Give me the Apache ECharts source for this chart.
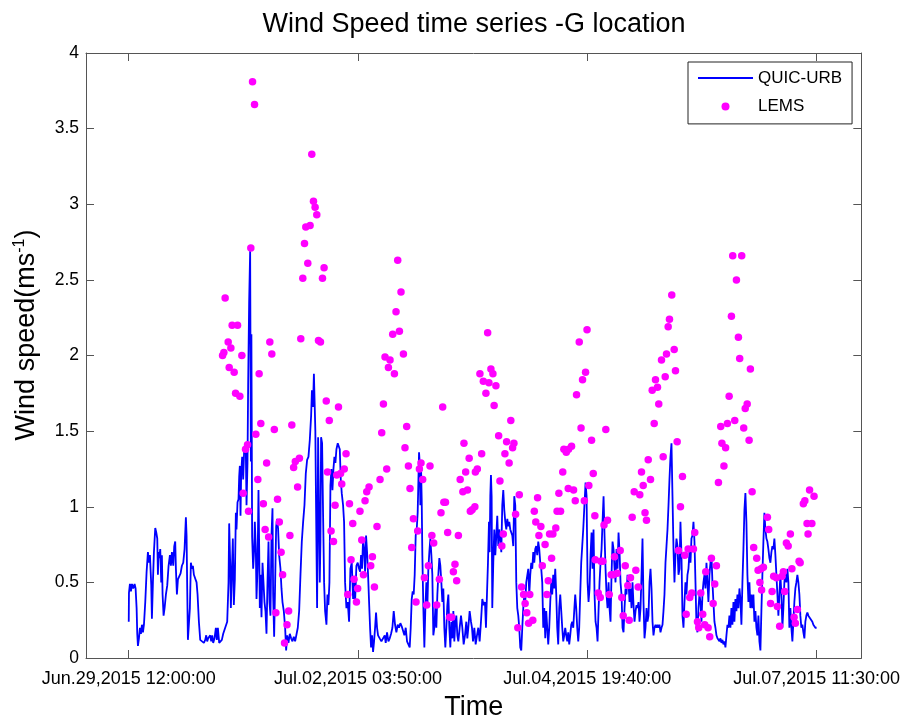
<!DOCTYPE html>
<html><head><meta charset="utf-8">
<script src="https://cdn.jsdelivr.net/npm/echarts@6/dist/echarts.min.js"></script>
<style>html,body{margin:0;padding:0;background:#fff}#c{width:903px;height:726px}</style>
</head><body><div id="c"></div>
<script>
// x values are hours after Jun.29,2015 12:00:00
const xTickHours = [0, 63.8333, 127.6667, 191.5];
const xTickLabels = ['Jun.29,2015 12:00:00', 'Jul.02,2015 03:50:00', 'Jul.04,2015 19:40:00', 'Jul.07,2015 11:30:00'];
const xRange = [-11.9, 203.95];

const quicHours = [
0.00,0.06,0.33,0.61,0.89,1.26,1.63,1.91,2.19,2.37,
2.56,2.84,3.12,3.39,3.67,3.95,4.23,4.60,4.97,5.34,
5.62,5.90,6.27,6.45,6.73,7.01,7.38,7.66,7.94,8.12,
8.31,8.49,8.77,9.05,9.23,9.42,9.70,9.98,10.35,10.72,
11.09,11.46,11.74,12.02,12.39,12.67,12.94,13.13,13.41,13.69,
14.06,14.43,14.80,15.17,15.54,15.91,16.10,16.28,16.47,16.74,
17.02,17.30,17.58,17.86,18.14,18.51,18.88,19.16,19.53,19.90,
20.36,20.92,21.29,21.57,21.84,22.12,22.40,22.68,22.96,23.24,
23.51,23.88,24.26,24.53,24.81,25.18,25.55,25.92,26.30,26.85,
27.41,27.78,27.96,28.24,28.43,28.71,28.98,29.26,29.54,29.82,
30.00,30.28,30.56,30.75,30.93,31.12,31.30,31.58,31.86,32.14,
32.41,32.60,32.79,33.06,33.24,33.52,33.80,34.00,34.15,34.35,
34.64,34.92,35.10,35.38,35.57,35.85,36.12,36.31,36.49,36.68,
36.96,37.24,37.51,37.79,38.07,38.35,38.63,38.91,39.18,39.46,
39.74,40.02,40.20,40.48,40.76,41.04,41.32,41.59,41.87,42.24,
42.52,42.80,43.17,43.54,43.82,44.10,44.47,44.84,45.21,45.58,
45.95,46.32,46.69,47.06,47.44,47.81,48.18,48.55,48.92,49.29,
49.66,50.03,50.40,50.77,51.00,51.15,51.30,51.55,51.75,51.95,
52.15,52.44,52.72,52.99,53.18,53.37,53.55,53.83,54.11,54.39,
54.67,55.04,55.32,55.59,55.87,56.15,56.43,56.71,56.99,57.26,
57.54,57.82,58.19,58.47,58.75,59.03,59.30,59.67,59.95,60.23,
60.60,60.97,61.34,61.71,62.09,62.46,62.73,63.01,63.38,63.75,
64.13,
64.40,64.68,64.96,65.24,65.52,65.80,66.07,66.35,66.63,66.91,
67.19,67.46,67.74,68.02,68.30,68.58,68.85,69.13,69.41,69.87,
70.34,70.80,71.27,71.54,71.91,72.29,72.66,73.03,73.40,73.77,
74.14,74.51,74.88,75.25,75.62,75.99,76.37,76.74,77.11,77.48,
77.85,78.22,78.50,78.78,79.05,79.33,79.61,79.89,80.17,80.44,
80.63,80.82,81.00,81.19,81.37,81.56,81.74,82.02,82.30,82.58,
82.86,83.13,83.41,83.69,83.97,84.25,84.52,84.80,85.08,85.36,
85.64,85.92,86.19,86.47,86.75,87.03,87.31,87.58,87.86,88.14,
88.42,88.70,88.98,89.25,89.53,89.81,90.09,90.37,90.64,90.92,
91.20,91.48,91.76,92.13,92.50,92.87,93.24,93.61,93.98,94.26,
94.54,94.91,95.28,95.56,95.84,96.21,96.58,96.95,97.32,97.69,
98.06,98.43,98.80,99.17,99.45,99.73,100.01,100.29,100.47,100.66,
100.84,101.03,101.21,101.49,101.77,102.05,102.33,102.60,102.88,103.16,
103.44,103.72,103.99,104.27,104.55,104.83,105.11,105.39,105.66,105.94,
106.22,106.50,106.78,107.05,107.33,107.61,107.89,108.17,108.45,108.72,
109.00,109.28,109.56,109.84,110.12,110.39,110.67,110.95,111.23,111.51,
111.78,112.06,112.34,112.62,112.90,113.17,113.45,113.73,114.01,114.29,
114.57,114.84,115.12,115.40,115.68,115.96,116.23,116.51,116.79,117.07,
117.35,117.63,117.90,118.18,118.46,118.74,119.02,119.29,119.57,119.85,
120.13,120.41,120.69,120.96,121.24,121.52,121.80,122.08,122.35,122.63,
122.91,123.19,123.47,123.75,124.02,124.30,124.58,124.86,125.14,125.41,
125.69,125.97,126.25,126.53,126.80,127.08,
127.18,127.46,127.74,128.01,128.29,128.57,128.85,129.13,129.40,129.68,
129.96,130.24,130.52,130.79,131.07,131.35,131.63,131.91,132.19,132.46,
132.74,133.02,133.30,133.58,133.85,134.13,134.41,134.69,134.97,135.25,
135.52,135.80,136.08,136.36,136.64,136.91,137.19,137.47,137.75,138.03,
138.31,138.58,138.86,139.14,139.42,139.70,139.97,140.25,140.53,140.81,
141.09,141.37,141.64,141.92,142.20,142.48,142.76,143.03,143.31,143.59,
143.87,144.15,144.42,144.70,144.98,145.26,145.54,145.82,146.09,146.37,
146.65,146.93,147.21,147.48,147.76,148.04,148.32,148.60,148.87,149.15,
149.43,149.71,149.99,150.27,150.54,150.82,151.10,151.38,151.66,151.93,
152.21,152.49,152.77,153.05,153.33,153.60,153.88,154.16,154.44,154.72,
154.99,155.27,155.55,155.83,156.11,156.39,156.66,156.94,157.22,157.50,
157.78,158.05,158.33,158.61,158.89,159.17,159.45,159.72,160.00,160.28,
160.56,160.84,161.11,161.39,161.67,161.95,162.23,162.50,162.78,163.06,
163.34,163.62,163.90,164.17,164.45,164.73,165.01,165.29,165.56,165.84,
166.12,166.40,166.68,166.96,167.23,167.51,167.79,168.07,168.35,168.62,
168.90,169.18,169.46,169.74,170.02,170.29,170.57,170.85,171.13,171.41,
171.68,171.96,172.24,172.52,172.80,173.07,173.35,173.63,173.91,174.19,
174.47,174.74,175.02,175.30,175.58,175.86,176.13,176.41,176.69,176.97,
177.25,177.53,177.80,178.08,178.36,178.64,178.92,179.19,179.47,179.75,
180.03,180.31,180.59,180.86,181.14,181.42,181.70,181.98,182.25,182.53,
182.81,183.09,183.37,183.65,183.92,184.20,184.48,184.76,185.04,185.31,
185.59,185.87,186.15,186.43,186.71,186.98,187.26,187.54,187.82,188.10,
188.37,188.65,188.93,189.21,189.49,189.77,190.04,190.32,190.60,190.88,
191.16,191.50
];
const quicSpeed = [
0.24,0.43,0.49,0.44,0.49,0.46,0.49,0.46,0.33,0.16,
0.08,0.13,0.20,0.16,0.22,0.17,0.22,0.37,0.57,0.70,
0.63,0.68,0.48,0.26,0.50,0.70,0.86,0.83,0.79,0.55,
0.70,0.66,0.72,0.50,0.68,0.42,0.28,0.33,0.42,0.48,
0.61,0.68,0.61,0.70,0.61,0.74,0.77,0.59,0.42,0.52,
0.54,0.56,0.61,0.63,0.72,0.93,0.81,0.46,0.12,0.13,
0.33,0.63,0.59,0.61,0.55,0.56,0.50,0.42,0.24,0.12,
0.11,0.10,0.12,0.15,0.11,0.13,0.14,0.15,0.11,0.15,
0.10,0.13,0.20,0.12,0.20,0.10,0.10,0.12,0.16,0.20,
0.24,0.50,0.89,0.63,0.33,0.33,0.79,0.35,0.52,0.96,
0.85,1.03,1.05,1.20,1.27,0.94,1.22,1.33,1.18,1.38,
1.40,1.36,1.01,1.29,1.80,2.35,2.69,1.30,2.14,0.80,
0.59,0.72,0.90,0.72,0.39,0.59,1.11,0.74,0.33,0.55,
0.27,0.63,0.50,0.37,0.31,0.16,0.50,0.77,0.37,0.28,
0.81,0.99,0.42,0.14,0.50,0.87,0.92,0.85,0.68,0.59,
0.46,0.37,0.31,0.20,0.05,0.15,0.10,0.16,0.13,0.11,
0.14,0.11,0.12,0.20,0.31,0.55,0.77,0.90,1.01,1.22,
1.31,1.33,1.44,1.60,1.77,1.72,1.66,1.88,1.87,1.50,
1.00,0.33,1.46,0.90,0.50,0.77,1.46,1.42,0.94,0.50,
0.31,0.22,0.42,0.35,0.50,1.14,1.25,1.11,1.25,1.33,
1.29,1.38,1.42,1.43,1.38,1.18,1.09,1.01,0.90,0.50,
0.33,0.37,0.24,0.59,0.63,0.39,0.50,0.37,0.61,0.63,
0.59,
0.57,0.68,0.59,0.79,0.72,0.57,0.81,0.70,0.55,0.37,
0.20,0.07,0.15,0.04,0.11,0.20,0.30,0.20,0.15,0.13,
0.11,0.10,0.15,0.10,0.17,0.11,0.13,0.16,0.20,0.31,
0.22,0.17,0.22,0.20,0.23,0.21,0.20,0.15,0.20,0.11,
0.12,0.07,0.20,0.39,0.44,0.42,0.55,0.81,0.85,0.96,
1.16,1.36,1.29,1.01,1.27,1.05,0.68,0.33,0.07,0.33,
0.50,0.33,0.59,0.70,0.79,0.68,0.55,0.15,0.20,0.33,
0.20,0.42,0.55,0.66,0.61,0.50,0.37,0.46,0.20,0.07,
0.20,0.35,0.42,0.20,0.07,0.24,0.13,0.31,0.11,0.24,
0.28,0.15,0.11,0.20,0.28,0.20,0.09,0.15,0.24,0.13,
0.20,0.31,0.24,0.20,0.11,0.20,0.09,0.15,0.20,0.11,
0.24,0.39,0.35,0.37,0.20,0.42,0.63,0.90,0.70,1.07,
1.21,1.07,0.33,0.63,0.85,0.68,0.81,0.94,0.74,0.85,
0.79,0.70,1.01,1.11,0.98,0.90,0.85,0.92,0.87,0.90,
0.85,0.85,0.81,0.74,1.07,1.01,0.50,0.33,0.28,0.20,
0.07,0.05,0.20,0.33,0.42,0.37,0.50,0.50,0.59,0.42,
0.55,0.63,0.59,0.70,0.63,0.72,0.74,0.68,0.77,0.72,
0.63,0.59,0.50,0.20,0.33,0.13,0.31,0.20,0.09,0.20,
0.37,0.50,0.42,0.55,0.46,0.59,0.42,0.20,0.09,0.33,
0.42,0.31,0.20,0.11,0.15,0.20,0.15,0.11,0.17,0.09,
0.15,0.22,0.24,0.20,0.31,0.42,0.33,0.20,0.11,0.20,
0.42,0.63,0.74,0.85,0.98,1.11,
1.16,1.07,0.50,0.37,0.46,0.68,0.83,0.59,0.85,0.42,
0.24,0.20,0.11,0.31,0.50,0.63,0.72,0.90,1.07,0.81,
0.59,0.42,0.33,0.50,0.33,0.24,0.55,0.77,0.72,0.59,
0.50,0.72,0.59,0.83,0.70,0.50,0.42,0.20,0.17,0.33,
0.46,0.42,0.55,0.50,0.37,0.46,0.33,0.50,0.35,0.24,
0.31,0.35,0.33,0.37,0.24,0.33,0.55,0.79,0.37,0.13,
0.20,0.33,0.24,0.28,0.50,0.59,0.46,0.24,0.15,0.20,
0.22,0.20,0.22,0.20,0.22,0.17,0.20,0.22,0.31,0.42,
0.63,0.74,0.85,1.01,1.18,1.33,1.42,1.07,0.72,0.50,
0.68,0.79,0.74,0.55,0.59,0.90,0.68,0.28,0.20,0.37,
0.50,0.42,0.55,0.59,0.70,0.63,0.79,0.81,0.90,0.77,
0.50,0.22,0.17,0.33,0.42,0.37,0.24,0.42,0.50,0.55,
0.46,0.63,0.50,0.37,0.55,0.63,0.68,0.50,0.37,0.24,
0.20,0.15,0.13,0.12,0.11,0.13,0.10,0.12,0.09,0.11,
0.07,0.15,0.22,0.20,0.28,0.20,0.33,0.22,0.37,0.24,
0.39,0.31,0.42,0.33,0.46,0.39,0.22,0.50,0.72,0.98,
1.09,0.90,0.55,0.37,0.50,0.33,0.42,0.33,0.42,0.24,
0.31,0.20,0.15,0.28,0.11,0.05,0.31,0.55,0.77,0.96,
0.85,0.79,0.77,0.72,0.66,0.63,0.70,0.74,0.72,0.79,
0.68,0.55,0.42,0.28,0.42,0.55,0.42,0.20,0.33,0.50,
0.57,0.50,0.59,0.50,0.20,0.33,0.20,0.11,0.24,0.37,
0.46,0.50,0.55,0.50,0.42,0.28,0.20,0.22,0.17,0.13,
0.24,0.28,0.30,0.28,0.27,0.26,0.26,0.24,0.22,0.21,
0.20,0.20
];

const lemsHours = [
26.12,26.48,26.84,27.68,27.96,28.43,28.79,29.35,29.74,30.29,
30.93,31.49,31.85,32.52,33.07,33.35,33.99,34.46,35.02,35.38,
35.94,36.30,36.77,37.47,37.97,38.39,38.94,39.28,39.83,40.53,
40.95,41.42,41.92,42.42,42.84,43.37,44.06,44.51,44.87,45.40,
45.90,46.37,47.01,47.51,47.90,48.46,48.93,49.29,49.85,50.49,
50.96,51.43,51.88,52.35,52.82,53.38,53.94,54.38,54.99,55.33,
55.83,56.33,57.00,57.44,57.91,58.39,58.97,59.30,60.00,60.50,
60.97,61.45,61.89,62.36,62.73,63.39,63.73,64.37,64.87,65.34,
65.79,66.26,66.90,67.37,67.84,68.40,69.12,69.96,70.43,70.90,
71.35,71.82,72.29,72.74,73.49,73.96,74.41,74.88,75.35,75.80,
76.47,76.91,77.38,77.86,78.30,78.78,79.25,79.97,80.44,80.92,
81.36,81.83,82.31,82.95,83.42,83.87,84.39,84.90,85.73,86.48,
86.93,87.40,87.73,88.18,88.79,89.35,89.90,90.38,90.82,91.29,
91.77,92.27,93.02,93.32,93.80,94.30,94.77,95.10,95.60,96.36,
96.50,97.05,97.77,98.25,98.72,99.44,99.92,100.28,100.83,101.39,
101.72,102.22,102.98,103.34,103.87,104.28,104.73,105.20,105.90,106.37,
106.87,107.23,107.70,108.32,108.73,109.37,109.93,110.35,110.82,111.32,
111.65,112.49,112.91,113.32,113.82,114.19,114.74,115.13,115.91,116.41,
116.80,117.16,117.72,118.08,118.89,119.25,119.75,120.22,120.83,121.14,
121.81,122.36,122.45,123.28,123.84,124.31,124.67,125.42,125.92,126.34,
126.84,127.18,127.59,128.09,128.85,129.32,129.76,129.87,130.71,131.27,
131.43,131.99,132.32,132.82,133.29,133.77,134.32,134.88,135.24,135.99,
136.83,137.27,137.66,138.22,138.94,139.33,139.69,140.16,140.72,141.17,
141.83,142.28,142.75,143.23,143.73,144.14,144.62,145.26,145.73,146.29,
146.65,147.20,147.56,148.32,148.79,149.35,149.71,150.18,150.54,151.18,
151.85,152.21,152.68,153.04,153.60,154.16,154.80,155.19,155.74,156.19,
156.75,157.22,157.58,158.33,158.69,159.25,159.80,160.36,160.64,161.30,
161.75,162.22,162.70,163.14,163.61,164.17,164.81,165.14,165.70,166.17,
166.67,167.15,167.79,168.15,168.71,169.18,169.73,170.09,170.65,171.21,
171.63,172.18,172.71,173.07,173.55,173.99,174.83,175.21,175.71,176.05,
176.19,176.69,177.80,178.16,178.69,179.11,179.55,180.30,180.58,181.22,
181.89,182.25,182.61,183.09,183.59,184.20,184.62,185.23,185.59,186.15,
186.62,186.92,187.81,188.23,188.84,189.12,189.54,190.18,190.79
];
const lemsSpeed = [
2.00,2.02,2.38,2.09,1.92,2.05,2.20,1.89,1.75,2.20,
1.73,2.00,1.09,1.38,1.41,0.97,2.71,3.81,3.66,1.48,
1.18,1.88,1.55,1.02,0.85,1.29,0.80,2.09,2.01,1.51,
0.30,1.05,0.90,0.70,0.55,0.10,0.22,0.31,0.81,1.54,
1.26,1.30,1.13,1.32,2.11,2.51,2.74,2.85,2.61,2.86,
3.33,3.02,2.98,2.93,2.10,2.09,2.51,2.58,1.70,1.23,
1.57,0.84,0.77,1.01,1.21,1.66,1.22,1.15,1.25,1.35,
0.42,1.02,0.65,0.89,0.52,0.37,0.46,0.97,0.78,0.55,
1.04,1.10,1.13,0.61,0.67,0.47,0.87,1.18,1.49,1.68,
1.99,1.25,1.92,1.97,2.14,1.88,2.29,2.63,2.16,2.42,
2.01,1.39,1.53,1.27,1.12,0.73,0.92,0.37,0.84,1.25,
1.29,1.18,0.53,0.35,0.61,1.27,0.81,0.76,0.35,0.52,
0.96,1.66,1.03,1.03,0.83,0.27,0.27,0.57,0.62,0.51,
0.81,1.18,1.10,1.42,1.23,1.11,1.32,0.97,0.98,1.00,
1.23,1.25,1.88,1.35,1.83,1.75,2.15,1.82,1.91,1.88,
1.67,1.80,1.47,1.17,0.74,0.82,1.35,1.43,1.29,1.57,
1.39,1.42,0.95,0.20,1.08,0.47,0.42,0.36,0.30,0.23,
0.42,0.25,0.97,0.90,1.06,0.81,0.87,0.61,0.75,0.42,
0.51,0.82,0.66,0.82,0.86,0.97,1.09,0.97,1.23,1.38,
1.36,1.12,1.38,1.40,1.11,1.04,1.74,2.09,1.52,1.84,
1.04,1.89,2.17,1.14,1.44,1.22,0.94,0.65,0.43,0.40,
0.64,0.64,0.88,1.51,0.91,0.42,0.55,0.55,0.67,0.56,
0.71,0.40,0.28,0.61,0.48,0.25,0.53,0.93,1.10,0.58,
0.47,1.08,1.23,1.14,0.96,0.91,1.31,1.18,1.77,1.55,
1.84,1.79,1.68,1.97,1.33,1.86,2.01,2.19,2.24,2.40,
2.04,1.90,1.43,0.71,1.00,1.20,0.68,0.29,0.72,0.40,
0.43,0.72,0.83,0.24,0.20,0.43,0.29,0.22,0.57,0.20,
0.14,0.66,0.36,0.49,0.61,1.16,1.53,1.42,1.27,1.39,
1.55,1.73,2.26,2.66,1.57,2.50,2.12,1.98,2.66,1.52,
1.65,1.68,1.44,1.91,1.10,0.73,0.66,0.58,0.50,0.59,
0.45,0.60,0.93,0.85,0.36,0.44,0.54,0.53,0.34,0.21,
0.54,0.57,0.44,0.76,0.74,0.82,0.59,0.27,0.23,0.32,
0.64,0.63,1.02,1.04,0.89,0.82,1.11,0.89,1.07
];

const FONT = '"Liberation Sans", Arial, Helvetica, sans-serif';
const AXIS_COLOR = '#555';

function pairs(xs, ys) {
  const n = Math.min(xs.length, ys.length);
  const out = [];
  for (let i = 0; i < n; i++) out.push([xs[i], ys[i]]);
  return out;
}
function xLabel(v) {
  for (let i = 0; i < xTickHours.length; i++) {
    if (Math.abs(v - xTickHours[i]) < 1e-3) return xTickLabels[i];
  }
  return '';
}

const chart = echarts.init(document.getElementById('c'), null, { renderer: 'canvas' });
const baseX = {
  type: 'value', min: xRange[0], max: xRange[1],
  splitLine: { show: false },
  axisLine: { show: true, onZero: false, lineStyle: { color: AXIS_COLOR, width: 1 } },
  axisTick: { show: true, inside: true, length: 8, customValues: xTickHours, lineStyle: { color: AXIS_COLOR } }
};
const baseY = {
  type: 'value', min: 0, max: 4, interval: 0.5,
  splitLine: { show: false },
  axisLine: { show: true, onZero: false, lineStyle: { color: AXIS_COLOR, width: 1 } },
  axisTick: { show: true, inside: true, length: 8, lineStyle: { color: AXIS_COLOR } }
};

chart.setOption({
  animation: false,
  backgroundColor: '#fff',
  title: {
    text: 'Wind Speed time series -G location',
    left: 469, top: 6, textAlign: 'center',
    textStyle: { fontFamily: FONT, fontSize: 27, fontWeight: 'normal', color: '#000' }
  },
  grid: { left: 86, right: 41, top: 53, bottom: 63, containLabel: false },
  xAxis: [
    Object.assign({}, baseX, {
      position: 'bottom',
      axisLabel: { show: true, customValues: xTickHours, formatter: xLabel, margin: 12,
        fontFamily: FONT, fontSize: 18, color: '#000' },
      name: 'Time', nameLocation: 'middle', nameGap: 36,
      nameTextStyle: { fontFamily: FONT, fontSize: 27, color: '#000' }
    }),
    Object.assign({}, baseX, { position: 'top', axisLabel: { show: false } })
  ],
  yAxis: [
    Object.assign({}, baseY, {
      position: 'left',
      axisLabel: { show: true, margin: 7, fontFamily: FONT, fontSize: 17.5, color: '#000' }
    }),
    Object.assign({}, baseY, { position: 'right', axisLabel: { show: false } })
  ],
  legend: {
    orient: 'vertical', left: 688, top: 62,
    padding: [7.5, 10, 9, 10], itemGap: 11.4, itemWidth: 55, itemHeight: 8,
    borderColor: '#222', borderWidth: 1, backgroundColor: '#fff',
    selectedMode: false, symbolKeepAspect: true,
    textStyle: { fontFamily: FONT, fontSize: 17, color: '#000' },
    data: [
      { name: 'QUIC-URB', icon: 'path://M0,0L55,0L55,1.8L0,1.8Z' },
      { name: 'LEMS', icon: 'circle' }
    ]
  },
  graphic: [{
    type: 'text', x: 27, y: 335, rotation: Math.PI / 2,
    style: {
      text: '{a|Wind speed(ms}{s|-1}{a|)}',
      align: 'center', verticalAlign: 'middle', textAlign: 'center', textVerticalAlign: 'middle',
      fill: '#000',
      rich: {
        a: { fontFamily: FONT, fontSize: 27, lineHeight: 30, fill: '#000' },
        s: { fontFamily: FONT, fontSize: 16, verticalAlign: 'top', lineHeight: 16, fill: '#000' }
      }
    }
  }],
  series: [
    {
      name: 'QUIC-URB', type: 'line', xAxisIndex: 0, yAxisIndex: 0,
      data: pairs(quicHours, quicSpeed),
      symbol: 'none', showSymbol: false, sampling: null,
      lineStyle: { color: '#0000ff', width: 1.8 },
      itemStyle: { color: '#0000ff' },
      z: 2
    },
    {
      name: 'LEMS', type: 'scatter', xAxisIndex: 0, yAxisIndex: 0,
      data: pairs(lemsHours, lemsSpeed),
      symbol: 'circle', symbolSize: 7.5,
      itemStyle: { color: '#ff00ff', opacity: 1 },
      z: 3
    }
  ]
});
</script>
</body></html>
